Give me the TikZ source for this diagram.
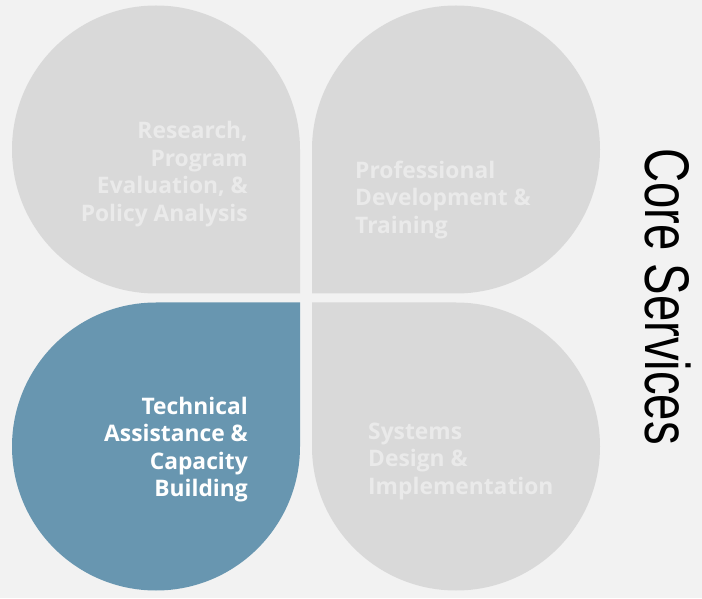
\documentclass[tikz,border=0pt]{standalone}
\usepackage{fontspec}
\setmainfont{Open Sans}
\newfontfamily\titlefont[FakeStretch=0.75]{Liberation Sans}
\usetikzlibrary{calc}
\definecolor{pagebg}{RGB}{242,242,242}
\definecolor{petalgray}{RGB}{217,217,217}
\definecolor{petaltext}{RGB}{234,234,234}
\definecolor{tablue}{RGB}{104,150,176}

\begin{document}
\begin{tikzpicture}[x=1pt, y=1pt,
    petal/.style={fill=petalgray},
    active/.style={fill=tablue},
    lbl/.style={font=\bfseries\fontsize{22.8}{27.5}\selectfont,
                text=petaltext, inner sep=0pt},
    title/.style={font=\titlefont\fontsize{63}{63}\selectfont,
                  text=black, inner sep=0pt, rotate=-90}
]
    \useasboundingbox (0,0) rectangle (702,598);
    \fill[pagebg] (0,0) rectangle (702,598);

    % four petals, square corner towards the middle
    \fill[petal] (300,448.5) arc[start angle=0, end angle=270, radius=144]
        -- (300,304.5) -- cycle;
    \fill[petal] (456,304.5) arc[start angle=270, end angle=540, radius=144]
        -- (312,304.5) -- cycle;
    \fill[active] (156,295.5) arc[start angle=90, end angle=360, radius=144]
        -- (300,295.5) -- cycle;
    \fill[petal] (312,151.5) arc[start angle=180, end angle=450, radius=144]
        -- (312,295.5) -- cycle;

    \node[lbl, anchor=east, align=right] (research) at (248,424)
        {Research,\\Program\\Evaluation, \&\\Policy Analysis};
    \node[lbl, anchor=west, align=left] (profdev) at (355,398)
        {Professional\\Development \&\\Training};
    \node[lbl, anchor=east, align=right, text=white] (techassist) at (248,148.5)
        {Technical\\Assistance \&\\Capacity\\Building};
    \node[lbl, anchor=west, align=left] (systems) at (368,137)
        {Systems\\Design \&\\Implementation};

    \node[title, anchor=base west] (core) at (645,450) {Core Services};
\end{tikzpicture}
\end{document}
